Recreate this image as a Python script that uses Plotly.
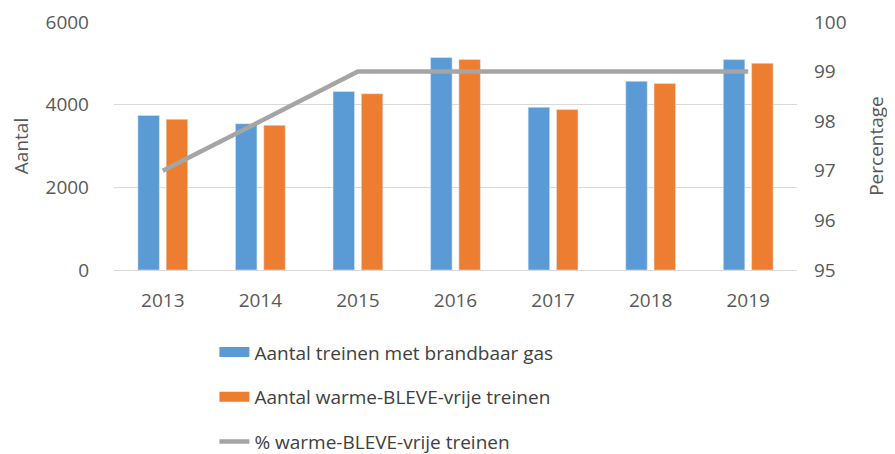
import plotly.graph_objects as go

years = ["2013", "2014", "2015", "2016", "2017", "2018", "2019"]
treinen_brandbaar_gas = [3740, 3540, 4320, 5140, 3935, 4565, 5090]
warme_bleve_vrij = [3645, 3500, 4265, 5095, 3885, 4515, 5000]
pct_warme_bleve_vrij = [97, 98, 99, 99, 99, 99, 99]

names = ["Aantal treinen met brandbaar gas", "Aantal warme-BLEVE-vrije treinen", "% warme-BLEVE-vrije treinen"]
BLUE = "#5B9BD5"
ORANGE = "#ED7D31"
GRAY = "#A5A5A5"
TXT = "#595959"
FONT = "Open Sans"

fig = go.Figure()
fig.add_trace(go.Bar(x=years, y=treinen_brandbaar_gas, marker_color=BLUE, showlegend=False, yaxis="y"))
fig.add_trace(go.Bar(x=years, y=warme_bleve_vrij, marker_color=ORANGE, showlegend=False, yaxis="y"))
fig.add_trace(go.Scatter(x=years, y=pct_warme_bleve_vrij, mode="lines", line=dict(color=GRAY, width=4.5),
                         showlegend=False, yaxis="y2"))
# legend entries
for nm, col, w, g in [(names[0], BLUE, 11, "a"), (names[1], ORANGE, 11, "b"), (names[2], GRAY, 4.5, "c")]:
    fig.add_trace(go.Scatter(x=[None], y=[None], mode="lines", name=nm, line=dict(color=col, width=w),
                             legendgroup=g, yaxis="y"))

fig.update_layout(
    width=887, height=446,
    margin=dict(l=106, r=98, t=14, b=184, autoexpand=False),
    paper_bgcolor="white", plot_bgcolor="white",
    font=dict(family=FONT, size=19, color=TXT),
    barmode="group", bargap=0.42, bargroupgap=0.24,
    xaxis=dict(showgrid=False, showline=True, linecolor="#D9D9D9", linewidth=1, ticks="",
               ticklabelstandoff=13, tickfont=dict(size=19), automargin=False),
    yaxis=dict(range=[0, 6000], dtick=2000, showgrid=True, gridcolor="#D9D9D9", gridwidth=1,
               zeroline=False, showline=False, ticklabelstandoff=24, automargin=False,
               title=dict(text="Aantal", standoff=26, font=dict(size=19))),
    yaxis2=dict(range=[95, 100], dtick=1, overlaying="y", side="right", showgrid=False,
                zeroline=False, showline=False, ticklabelstandoff=16, automargin=False,
                title=dict(text="Percentage", standoff=24, font=dict(size=19))),
    legend=dict(orientation="v", x=0.147, xanchor="left", y=-0.255, yanchor="top",
                font=dict(size=19, color="#404040"), tracegroupgap=17, itemwidth=30,
                bgcolor="rgba(0,0,0,0)"),
)

fig.write_html("out.html")
